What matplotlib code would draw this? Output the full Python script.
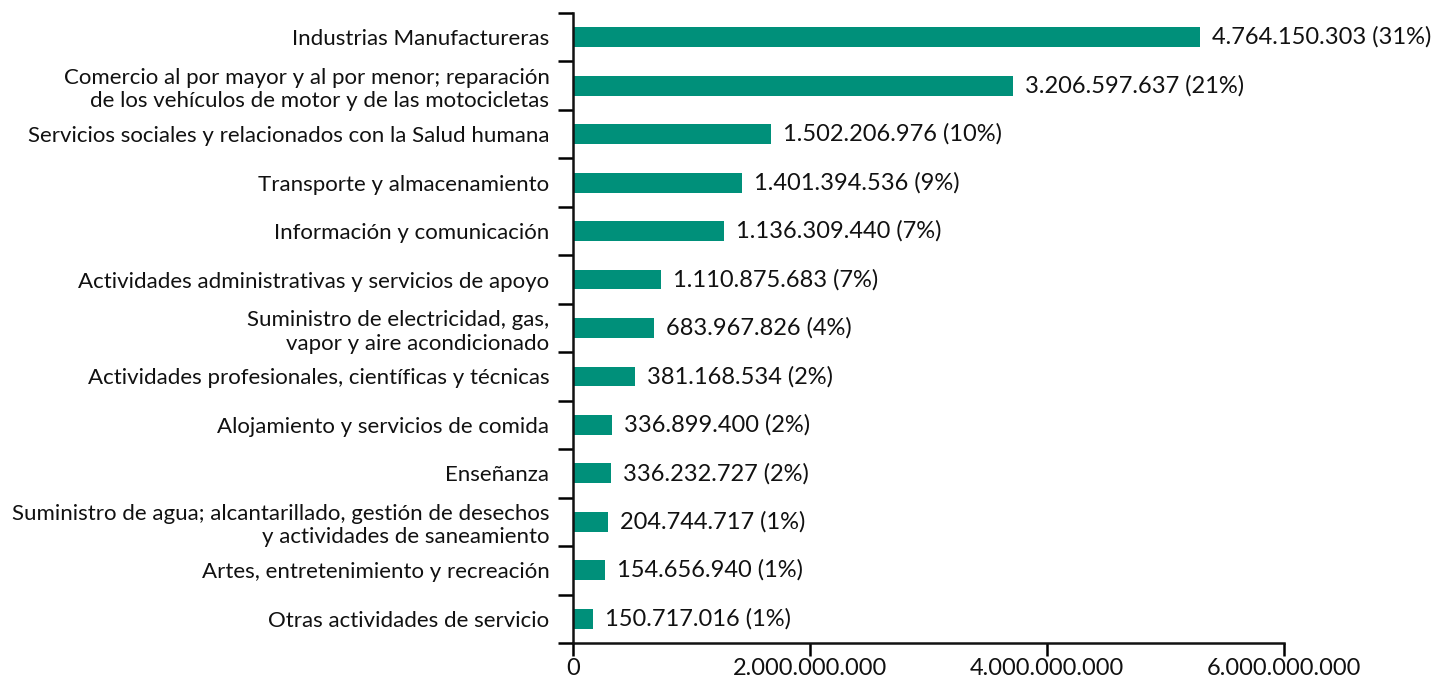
import matplotlib
matplotlib.use("Agg")
import matplotlib.pyplot as plt
import numpy as np

categories = [
    "Industrias Manufactureras",
    "Comercio al por mayor y al por menor; reparación\nde los vehículos de motor y de las motocicletas",
    "Servicios sociales y relacionados con la Salud humana",
    "Transporte y almacenamiento",
    "Información y comunicación",
    "Actividades administrativas y servicios de apoyo",
    "Suministro de electricidad, gas,\nvapor y aire acondicionado",
    "Actividades profesionales, científicas y técnicas",
    "Alojamiento y servicios de comida",
    "Enseñanza",
    "Suministro de agua; alcantarillado, gestión de desechos\ny actividades de saneamiento",
    "Artes, entretenimiento y recreación",
    "Otras actividades de servicio",
]
# bar lengths as drawn in the reference
bar_values = [5.293e9, 3.717e9, 1.674e9, 1.424e9, 1.273e9, 0.742e9, 0.683e9,
              0.523e9, 0.329e9, 0.320e9, 0.298e9, 0.270e9, 0.171e9]
value_labels = [
    "4.764.150.303 (31%)", "3.206.597.637 (21%)", "1.502.206.976 (10%)",
    "1.401.394.536 (9%)", "1.136.309.440 (7%)", "1.110.875.683 (7%)",
    "683.967.826 (4%)", "381.168.534 (2%)", "336.899.400 (2%)",
    "336.232.727 (2%)", "204.744.717 (1%)", "154.656.940 (1%)",
    "150.717.016 (1%)",
]
xticks = [0, 2e9, 4e9, 6e9]
xtick_labels = ["0", "2.000.000.000", "4.000.000.000", "6.000.000.000"]

plt.rcParams['font.family'] = ['Lato', 'DejaVu Sans']
W, H = 1435, 689
fig = plt.figure(figsize=(W / 100, H / 100), dpi=100)
ax = fig.add_axes([573 / W, 1 - 643 / H, (1284 - 573) / W, (643 - 13) / H])

y = np.arange(len(categories))
color = "#00907A"
txt = "#111111"
ax.barh(y, bar_values, height=0.41, color=color, zorder=2)
for yi, v, lab in zip(y, bar_values, value_labels):
    ax.annotate(lab, (v, yi), xytext=(8.6, 0), textcoords="offset points",
                ha="left", va="center", fontsize=17, color=txt)

ax.set_xlim(0, 6e9)
ax.set_ylim(len(categories) - 0.5, -0.5)
ax.set_xticks(xticks)
ax.set_xticklabels(xtick_labels, fontsize=17, color=txt)
# y ticks at category boundaries, labels at centres
ax.set_yticks(np.arange(-0.5, len(categories), 1.0))
ax.set_yticklabels([])
ax.set_yticks(y, minor=True)
ax.set_yticklabels(categories, minor=True, fontsize=16, color=txt, linespacing=1.22)
ax.tick_params(axis="y", which="minor", length=0, pad=17)
ax.tick_params(axis="y", which="major", length=11, width=1.8)
ax.tick_params(axis="x", which="major", length=9, width=1.8, pad=2)
for s in ["top", "right"]:
    ax.spines[s].set_visible(False)
for s in ["left", "bottom"]:
    ax.spines[s].set_linewidth(1.8)
    ax.spines[s].set_color(txt)

fig.savefig("out.png", dpi=100)
